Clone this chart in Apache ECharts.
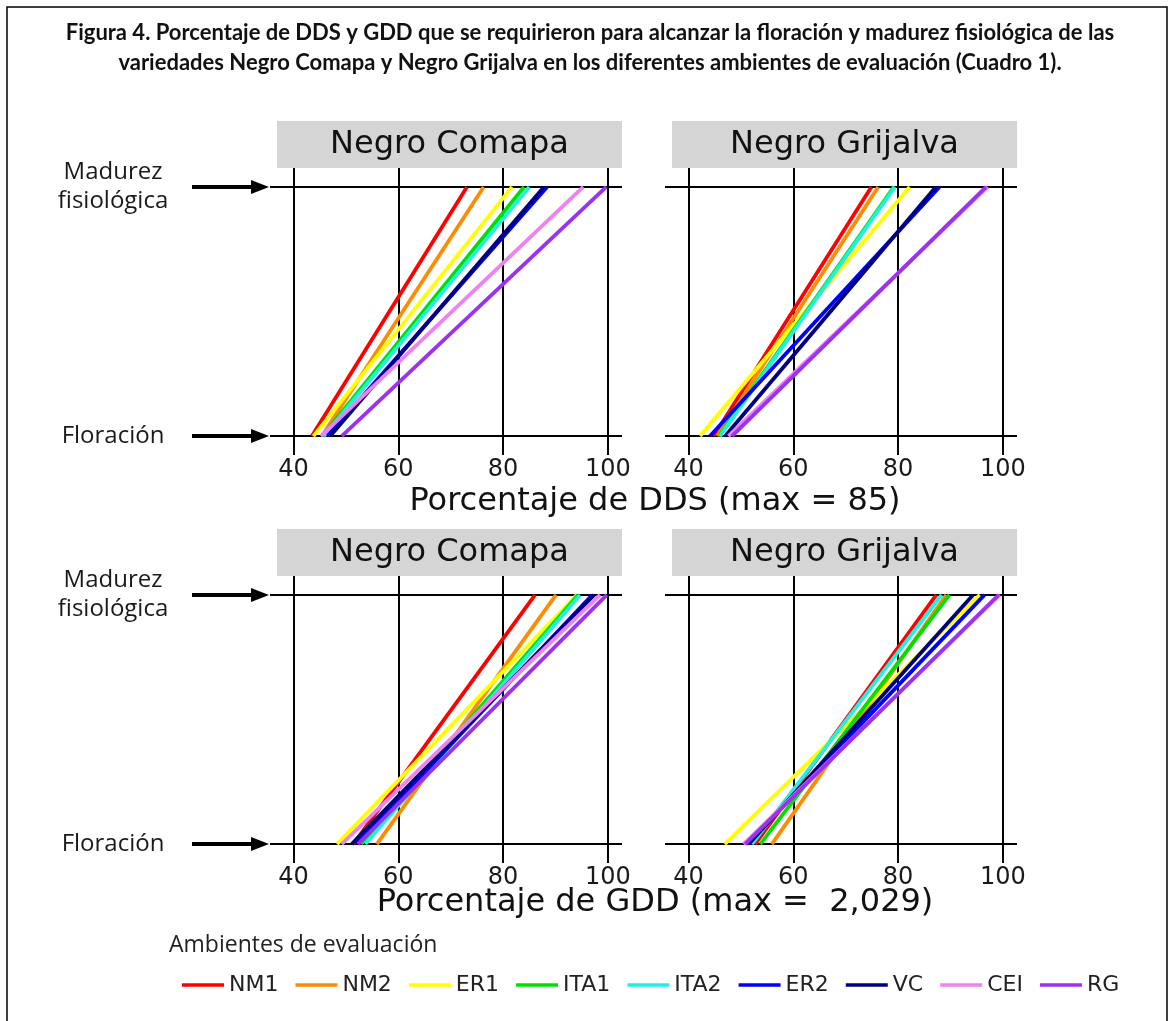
<!DOCTYPE html>
<html><head><meta charset="utf-8">
<script src="https://cdn.jsdelivr.net/npm/echarts@6/dist/echarts.min.js"></script>
<style>html,body{margin:0;padding:0;background:#fff}#c{width:1171px;height:1021px}</style>
</head><body><div id="c"></div>
<script>
// ---- data ----
const environments = ['NM1','NM2','ER1','ITA1','ITA2','ER2','VC','CEI','RG'];
const envColors = ['#FF0000','#FF8C00','#FFFF00','#00E000','#20F0E0','#0000FF','#000080','#EE82EE','#9A32F0'];
const xTickValues = [40, 60, 80, 100];
const stageValues = [0, 1];
const stageNames = ['Floración', 'Madurez\nfisiológica'];
const panelTitles = ['Negro Comapa', 'Negro Grijalva', 'Negro Comapa', 'Negro Grijalva'];
const captionText = 'Figura 4. Porcentaje de DDS y GDD que se requirieron para alcanzar la floración y madurez fisiológica de las\nvariedades Negro Comapa y Negro Grijalva en los diferentes ambientes de evaluación (Cuadro 1).';
const ddsAxisTitle = 'Porcentaje de DDS (max = 85)';
const gddAxisTitle = 'Porcentaje de GDD (max =  2,029)';
const legendTitle = 'Ambientes de evaluación';

// % at flowering (Floración) and physiological maturity (Madurez), per environment
const ddsComapaFloracion   = [43.5, 45.4, 43.8, 45.5, 45.8, 46.5, 47.0, 45.2, 49.2];
const ddsComapaMadurez     = [73.1, 76.3, 81.7, 84.0, 85.0, 88.4, 87.8, 95.3, 99.7];
const ddsGrijalvaFloracion = [44.8, 45.5, 42.2, 45.8, 46.0, 44.1, 47.0, 47.6, 48.3];
const ddsGrijalvaMadurez   = [74.9, 76.2, 82.2, 79.2, 79.4, 87.9, 87.2, 97.1, 96.8];
const gddComapaFloracion   = [51.4, 55.9, 48.3, 52.9, 53.7, 52.1, 51.1, 49.2, 52.3];
const gddComapaMadurez     = [86.1, 90.1, 94.1, 94.3, 94.7, 97.0, 97.4, 98.5, 99.8];
const gddGrijalvaFloracion = [52.7, 55.9, 46.9, 53.7, 52.1, 51.1, 51.5, 50.5, 50.8];
const gddGrijalvaMadurez   = [87.3, 89.2, 95.6, 89.8, 88.3, 96.5, 94.3, 99.4, 99.2];

const panels = [
  [ddsComapaFloracion, ddsComapaMadurez],
  [ddsGrijalvaFloracion, ddsGrijalvaMadurez],
  [gddComapaFloracion, gddComapaMadurez],
  [gddGrijalvaFloracion, gddGrijalvaMadurez]
];

// ---- layout ----
const gridLeft = [270, 665, 270, 665];
const gridTop = [168, 168, 576, 576];
const gridW = 352, gridH = 287;
const XMIN = 35.5, XMAX = 102.7, YMIN = -0.076, YMAX = 1.076;
const plotFont = 'DejaVu Sans';

const chart = echarts.init(document.getElementById('c'), null, {renderer: 'canvas'});

const grids = [], xAxes = [], yAxes = [], series = [];
for (let p = 0; p < 4; p++) {
  grids.push({left: gridLeft[p], top: gridTop[p], width: gridW, height: gridH, containLabel: false});
  xAxes.push({
    type: 'value', gridIndex: p, min: XMIN, max: XMAX,
    axisLine: {show: false},
    axisTick: {show: false, customValues: xTickValues},
    axisLabel: {customValues: xTickValues, fontFamily: plotFont, fontSize: 24, color: '#1a1a1a', margin: 3},
    splitLine: {show: true, lineStyle: {color: '#000', width: 2, type: 'solid'}}
  });
  const isLeft = (p % 2 === 0);
  yAxes.push({
    type: 'value', gridIndex: p, min: YMIN, max: YMAX,
    axisLine: {show: false},
    axisTick: {show: false, customValues: stageValues},
    axisLabel: {
      show: isLeft, customValues: stageValues,
      formatter: v => stageNames[Math.round(v)],
      fontFamily: 'Open Sans', fontSize: 24, color: '#1a1a1a', align: 'center',
      margin: 157, lineHeight: 29
    },
    splitLine: {show: true, lineStyle: {color: '#000', width: 2}}
  });
  const [flor, mad] = panels[p];
  environments.forEach((env, i) => {
    series.push({
      type: 'line', name: env, xAxisIndex: p, yAxisIndex: p,
      data: [[flor[i], stageValues[0]], [mad[i], stageValues[1]]],
      symbol: 'none', silent: true,
      lineStyle: {width: 3.8, color: envColors[i]},
      itemStyle: {color: envColors[i]},
      z: 3 + i
    });
  });
}

chart.setOption({
  animation: false,
  backgroundColor: '#fff',
  title: [
    {text: captionText, left: 585, top: 13, textAlign: 'center',
     textStyle: {fontFamily: 'Lato', fontWeight: 'bold', fontSize: 22, lineHeight: 30, color: '#111'}},
    {text: ddsAxisTitle, left: 650, top: 481, textAlign: 'center',
     textStyle: {fontFamily: plotFont, fontWeight: 'normal', fontSize: 32, color: '#111'}},
    {text: gddAxisTitle, left: 650, top: 882, textAlign: 'center',
     textStyle: {fontFamily: plotFont, fontWeight: 'normal', fontSize: 32, color: '#111'}},
    {text: legendTitle, left: 164, top: 929,
     textStyle: {fontFamily: 'Open Sans', fontWeight: 'normal', fontSize: 23, color: '#222'}}
  ],
  legend: {
    data: environments, left: 182, top: 974, padding: 0, icon: 'rect', itemWidth: 42, itemHeight: 3.5,
    itemGap: 17, textStyle: {fontFamily: plotFont, fontSize: 22, color: '#222'},
    selectedMode: false
  },
  grid: grids, xAxis: xAxes, yAxis: yAxes, series: series
});

// decorations: frame, facet strips, arrows
const g = [];
g.push({type: 'rect', shape: {x: 7, y: 7, width: 1160, height: 1040},
  style: {fill: 'none', stroke: '#000', lineWidth: 1.5}, z: 0, silent: true});
for (let p = 0; p < 4; p++) {
  const x0 = gridLeft[p] + 7, x1 = gridLeft[p] + gridW;
  const yb = gridTop[p];
  g.push({type: 'rect', shape: {x: x0, y: yb - 47, width: x1 - x0, height: 47},
    style: {fill: '#d5d5d5'}, z: 1, silent: true});
  g.push({type: 'text', x: (x0 + x1) / 2, y: yb - 23.5,
    style: {text: panelTitles[p], fontFamily: plotFont, fontSize: 32, fill: '#111',
      align: 'center', verticalAlign: 'middle'}, z: 2, silent: true});
  if (p % 2 === 0) {
    stageValues.forEach(v => {
      const pt = chart.convertToPixel({gridIndex: p}, [XMIN, v]);
      const y = pt[1], tip = pt[0] - 1;
      g.push({type: 'line', shape: {x1: 192, y1: y, x2: tip - 14, y2: y},
        style: {stroke: '#000', lineWidth: 4}, z: 2, silent: true});
      g.push({type: 'polygon', shape: {points: [[tip - 18, y - 7], [tip, y], [tip - 18, y + 7]]},
        style: {fill: '#000'}, z: 2, silent: true});
    });
  }
}
chart.setOption({graphic: g});
</script>
</body></html>
